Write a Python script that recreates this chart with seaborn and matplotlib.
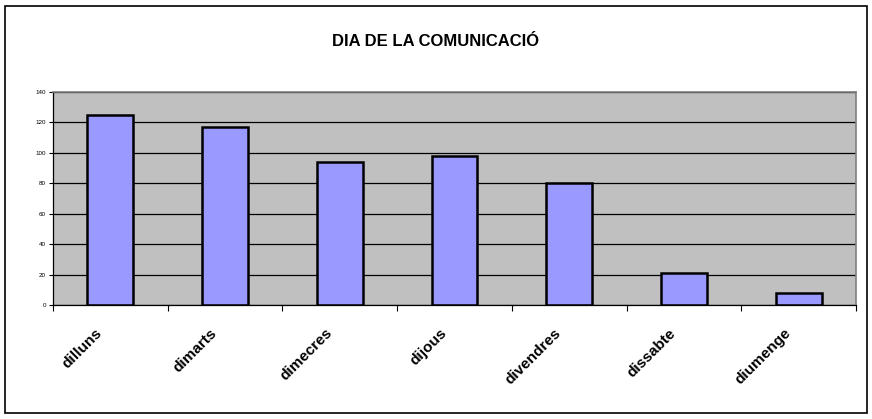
import matplotlib
matplotlib.use('Agg')
import matplotlib.pyplot as plt
import matplotlib.transforms as mtransforms
import seaborn as sns
import pandas as pd
from matplotlib.patches import Rectangle
from matplotlib.ticker import FixedLocator

# Data
dies = ['dilluns', 'dimarts', 'dimecres', 'dijous', 'divendres', 'dissabte', 'diumenge']
comunicacions = [125, 117, 94, 98, 80, 21, 8]
y_ticks = [0, 20, 40, 60, 80, 100, 120, 140]

df = pd.DataFrame({'dia': dies, 'n': comunicacions})

sns.set_style('white')
plt.rcParams['font.family'] = ['Liberation Sans', 'DejaVu Sans']
plt.rcParams['text.color'] = 'black'
plt.rcParams['xtick.color'] = 'black'
plt.rcParams['ytick.color'] = 'black'

fig = plt.figure(figsize=(8.72, 4.19), dpi=100)
ax = fig.add_axes([53 / 872, 1 - 305 / 419, (856 - 53) / 872, (305 - 92) / 419])

sns.barplot(data=df, x='dia', y='n', ax=ax, color='#9999FF', width=0.4,
            edgecolor='black', linewidth=1.8, saturation=1)

ax.set_facecolor('#C0C0C0')
ax.set_ylim(0, 140)
ax.set_xlim(-0.5, len(dies) - 0.5)
ax.set_yticks(y_ticks)
ax.set_yticklabels([str(t) for t in y_ticks], fontsize=4.5)
ax.yaxis.grid(True, color='black', linewidth=0.9)
ax.set_axisbelow(True)
ax.set_xlabel('')
ax.set_ylabel('')

# x ticks between categories, labels at centres
ax.set_xticks(range(len(dies)))
ax.set_xticklabels(dies, rotation=45, ha='right', rotation_mode='anchor',
                   fontsize=11, fontweight='bold')
ax.tick_params(axis='x', which='major', length=0, pad=15, bottom=True)
ax.xaxis.set_minor_locator(FixedLocator([i - 0.5 for i in range(len(dies) + 1)]))
ax.tick_params(axis='x', which='minor', length=4, width=0.8, color='black',
               direction='out', bottom=True)
ax.tick_params(axis='y', length=3, width=0.8, color='black', direction='out',
               pad=2, left=True)
shift = mtransforms.ScaledTranslation(-15 / 100, 0, fig.dpi_scale_trans)
for lbl in ax.get_xticklabels():
    lbl.set_transform(lbl.get_transform() + shift)

for s in ['left', 'bottom']:
    ax.spines[s].set_color('black')
    ax.spines[s].set_linewidth(0.9)
for s in ['top', 'right']:
    ax.spines[s].set_color('#808080')
    ax.spines[s].set_linewidth(1.2)

fig.text(0.5, 1 - 42 / 419, 'DIA DE LA COMUNICACIÓ', ha='center', va='center',
         fontsize=12, fontweight='bold')

# outer chart border
fig.patches.append(Rectangle((5 / 872, 6 / 419), 862 / 872, 407 / 419,
                             transform=fig.transFigure, fill=False,
                             edgecolor='black', linewidth=1.2))

fig.savefig('out.png', dpi=100)
